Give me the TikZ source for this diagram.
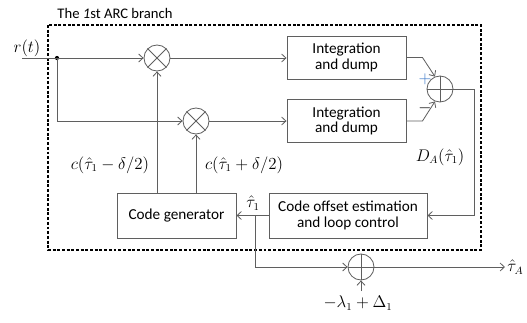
\documentclass[tikz,border=0pt]{standalone}
\usepackage{fontspec}
\setmainfont{Carlito}
\usetikzlibrary{arrows.meta,calc}
\definecolor{linegray}{RGB}{95,95,95}
\definecolor{plusblue}{RGB}{60,120,200}
\tikzset{
  wire/.style={draw=linegray,line width=0.7pt},
  arr/.style={wire,-{Straight Barb[length=1.3mm,width=2.4mm]}},
  blk/.style={draw=linegray,line width=0.8pt,align=center,inner sep=1pt,
    font=\fontsize{13}{13.5}\selectfont},
  mixer/.style={circle,draw=linegray,line width=0.7pt,minimum size=0.78cm,inner sep=0pt},
  lbl/.style={font=\fontsize{13.5}{15}\selectfont,inner sep=1pt}
}
\begin{document}
\begin{tikzpicture}[x=0.03cm,y=-0.03cm]
	\useasboundingbox (0,0) rectangle (527,322);
	% frame of the branch
	\draw[dash pattern=on 2.5pt off 1.5pt,line width=1pt] (48,25) rectangle (481,250);
	\node[lbl,font=\fontsize{12.5}{14}\selectfont] (title) at (115,13) {The \textit{1}st ARC branch};
	% blocks
	\node[blk,minimum width=3.57cm,minimum height=1.29cm] (int1) at (346.5,57.5) {Integration\\and dump};
	\node[blk,minimum width=3.57cm,minimum height=1.29cm] (int2) at (346.5,121) {Integration\\and dump};
	\node[blk,minimum width=4.74cm,minimum height=1.35cm] (est) at (348,215.5) {Code offset estimation\\and loop control};
	\node[blk,minimum width=3.57cm,minimum height=1.35cm] (gen) at (176.5,215.5) {Code generator};
	% mixers and adders
	\node[mixer] (mix1) at (157,58) {};
	\node[mixer] (mix2) at (196,121) {};
	\node[mixer] (sum1) at (440,89) {};
	\node[mixer] (sum2) at (361,267) {};
	\draw[wire] (mix1.45) -- (mix1.225) (mix1.135) -- (mix1.315);
	\draw[wire] (mix2.45) -- (mix2.225) (mix2.135) -- (mix2.315);
	\draw[wire] (sum1.north) -- (sum1.south) (sum1.west) -- (sum1.east);
	\draw[wire] (sum2.north) -- (sum2.south) (sum2.west) -- (sum2.east);
	% points
	\coordinate (in) at (22,58);
	\coordinate (split) at (57,58);
	\coordinate (turn) at (474,89);
	\coordinate (tap) at (255,215.5);
	\coordinate (out) at (505,267);
	\coordinate (bias) at (361,291);
	\fill[black] (split) circle (1.8pt);
	% connectors
	\draw[arr] (in) -- (mix1.west);
	\draw[arr] (split) |- (mix2.west);
	\draw[arr] (mix1.east) -- (mix1.east -| int1.west);
	\draw[arr] (mix2.east) -- (mix2.east -| int2.west);
	\draw[arr] (int1.east) -- ++(16,0) -- (sum1.112);
	\draw[arr] (int2.east) -- ++(16,0) -- (sum1.248);
	\draw[wire] (sum1.east) -- (turn);
	\draw[arr] (turn) |- (est.east);
	\draw[arr] (est.west) -- (gen.east);
	\draw[arr] (tap) |- (sum2.west);
	\draw[arr] (sum2.east) -- (out);
	\draw[arr] (bias) -- (sum2.south);
	\draw[arr] (gen.north -| mix1) -- (mix1.south);
	\draw[arr] (gen.north -| mix2) -- (mix2.south);
	% labels
	\node[lbl,font=\fontsize{15}{16}\selectfont] (rt) at (27,48) {$r(t)$};
	\node[lbl,text=plusblue] (plus) at (425,79) {$+$};
	\node[lbl] (minus) at (425,108) {$-$};
	\node[lbl] (da) at (440,157) {$D_{A}(\hat{\tau}_1)$};
	\node[lbl] (cminus) at (110,165) {$c(\hat{\tau}_1-\delta/2)$};
	\node[lbl] (cplus) at (244,165) {$c(\hat{\tau}_1+\delta/2)$};
	\node[lbl] (tau1) at (253,203) {$\hat{\tau}_1$};
	\node[lbl,anchor=west] (taua) at (506,267) {$\hat{\tau}_{A}$};
	\node[lbl] (lam) at (358,303) {$-\lambda_1+\Delta_1$};
\end{tikzpicture}
\end{document}
